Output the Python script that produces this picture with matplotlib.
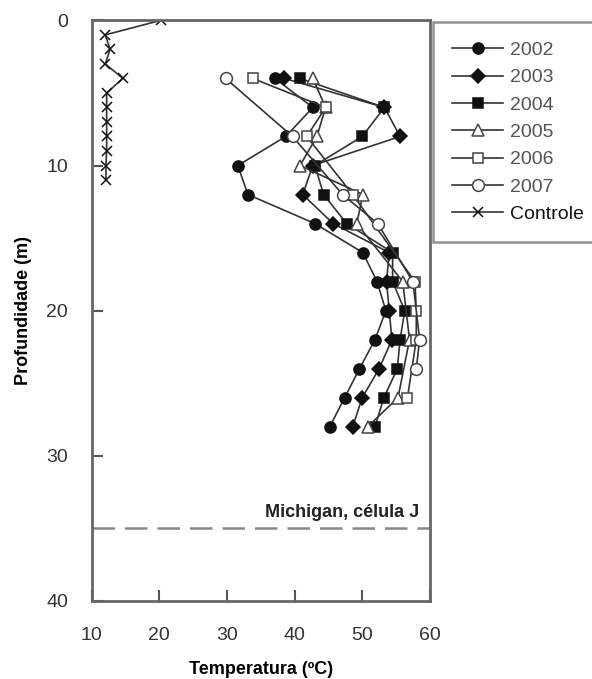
import matplotlib
matplotlib.use('Agg')
import matplotlib.pyplot as plt

plt.rcParams['font.family'] = ['Liberation Sans', 'DejaVu Sans']

# depth (m) and temperature (C) for each year
d2002 = [4, 6, 8, 10, 12, 14, 16, 18, 20, 22, 24, 26, 28]
t2002 = [37.1, 42.7, 38.7, 31.6, 33.1, 43.0, 50.1, 52.2, 53.5, 51.9, 49.6, 47.4, 45.2]

d2003 = [4, 6, 8, 10, 12, 14, 16, 18, 20, 22, 24, 26, 28]
t2003 = [38.5, 53.3, 55.6, 42.7, 41.2, 45.7, 54.0, 53.6, 54.0, 54.4, 52.5, 50.0, 48.6]

d2004 = [4, 6, 8, 10, 12, 14, 16, 18, 20, 22, 24, 26, 28]
t2004 = [40.8, 53.3, 50.0, 43.0, 44.3, 47.7, 54.5, 54.5, 56.3, 55.6, 55.2, 53.2, 51.9]

d2005 = [4, 6, 8, 10, 12, 14, 18, 22, 26, 28]
t2005 = [42.7, 44.6, 43.3, 40.8, 50.1, 49.2, 56.0, 57.0, 55.3, 50.8]

d2006 = [4, 6, 8, 12, 18, 20, 22, 26]
t2006 = [33.8, 44.6, 41.8, 48.6, 57.8, 58.0, 58.0, 56.7]

d2007 = [4, 8, 12, 14, 18, 22, 24]
t2007 = [29.8, 39.7, 47.1, 52.3, 57.5, 58.5, 58.0]

d_ctrl = [0, 1, 2, 3, 4, 5, 6, 7, 8, 9, 10, 11]
t_ctrl = [20.2, 12.0, 12.7, 12.0, 14.6, 12.2, 12.2, 12.2, 12.2, 12.2, 12.1, 12.1]

cell_depth = 35

fig = plt.figure(figsize=(5.92, 6.79), dpi=100)
ax = fig.add_axes([0.155, 0.115, 0.571, 0.855])

lc = '#333333'
kw = dict(color=lc, lw=1.2, ms=8, mec='#111111', mew=1.1)
ax.plot(t2002, d2002, marker='o', mfc='#111111', label='2002', **kw)
ax.plot(t2003, d2003, marker='D', mfc='#111111', label='2003', **dict(kw, ms=7))
ax.plot(t2004, d2004, marker='s', mfc='#111111', label='2004', **dict(kw, ms=7))
ax.plot(t2005, d2005, marker='^', mfc='white', label='2005', **dict(kw, mec='#444444'))
ax.plot(t2006, d2006, marker='s', mfc='white', label='2006', **dict(kw, ms=7.5, mec='#444444'))
ax.plot(t2007, d2007, marker='o', mfc='white', label='2007', **dict(kw, ms=8.5, mec='#444444'))
ax.plot(t_ctrl, d_ctrl, marker='x', mfc='none', label='Controle', **dict(kw, ms=7))

ax.axhline(cell_depth, color='#888888', lw=1.8, dashes=(9, 4))
ax.text(58.5, cell_depth - 0.5, 'Michigan, célula J', ha='right', va='bottom',
        fontsize=13, fontweight='bold', color='#222222')

ax.set_xlim(10, 60)
ax.set_ylim(40, 0)
ax.set_xticks([10, 20, 30, 40, 50, 60])
ax.set_yticks([0, 10, 20, 30, 40])
ax.tick_params(direction='in', length=8, width=1.5, color='#555555',
               labelsize=14, labelcolor='#333333')
ax.tick_params(axis='x', pad=19)
ax.tick_params(axis='y', pad=17)
for s in ax.spines.values():
    s.set_color('#666666')
    s.set_linewidth(2)

ax.set_xlabel('Temperatura (ºC)', fontsize=13, fontweight='bold', labelpad=12)
ax.set_ylabel('Profundidade (m)', fontsize=13, fontweight='bold', labelpad=10)

leg = fig.legend(loc='upper left', bbox_to_anchor=(433 / 592, 1 - 22 / 679),
                 fontsize=14, frameon=True, fancybox=False, labelspacing=0.5,
                 handlelength=2.6, handletextpad=0.35, borderpad=1.0,
                 borderaxespad=0)
leg.get_frame().set_edgecolor('#777777')
leg.get_frame().set_linewidth(1.8)
for txt in leg.get_texts():
    txt.set_color('#555555')
leg.get_texts()[-1].set_color('#111111')

fig.savefig('out.png', dpi=100)
